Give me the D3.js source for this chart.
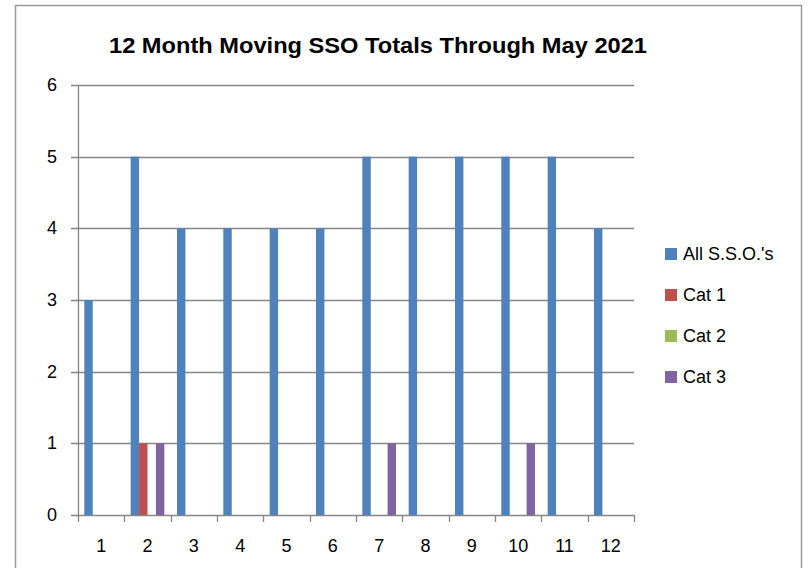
<!DOCTYPE html>
<html>
<head>
<meta charset="utf-8">
<script src="https://cdn.jsdelivr.net/npm/d3@7"></script>
<style>
  body { margin: 0; background: #fff; }
  text { font-family: "Liberation Sans", Arial, sans-serif; fill: #000; }
</style>
</head>
<body>
<div id="viz"></div>
<script>
const months = ['1', '2', '3', '4', '5', '6', '7', '8', '9', '10', '11', '12'];
const seriesNames = ["All S.S.O.'s", 'Cat 1', 'Cat 2', 'Cat 3'];
const allSSO = [3, 5, 4, 4, 4, 4, 5, 5, 5, 5, 5, 4];
const cat1 = [0, 1, 0, 0, 0, 0, 0, 0, 0, 0, 0, 0];
const cat2 = [0, 0, 0, 0, 0, 0, 0, 0, 0, 0, 0, 0];
const cat3 = [0, 1, 0, 0, 0, 0, 1, 0, 0, 1, 0, 0];
const yTicks = [0, 1, 2, 3, 4, 5, 6];
const title = '12 Month Moving SSO Totals Through May 2021';

const colours = {
  "All S.S.O.'s": '#4F81BD',
  'Cat 1': '#C0504D',
  'Cat 2': '#9BBB59',
  'Cat 3': '#8064A2',
};

const seriesValues = [allSSO, cat1, cat2, cat3];
const rows = months.map((m, i) => ({
  month: m,
  values: seriesNames.map((s, j) => ({ series: s, value: seriesValues[j][i] })),
}));

const width = 808;
const height = 568;
const plot = { left: 78, right: 634, top: 85, bottom: 515 };
const gridColour = '#868686';

const svg = d3.select('#viz')
  .append('svg')
  .attr('width', width)
  .attr('height', height);

// chart frame
svg.append('rect')
  .attr('x', 15.5)
  .attr('y', 5.5)
  .attr('width', 786)
  .attr('height', 600)
  .attr('fill', '#fff')
  .attr('stroke', '#999')
  .attr('stroke-width', 1.5);

svg.append('text')
  .attr('x', 378)
  .attr('y', 53)
  .attr('text-anchor', 'middle')
  .attr('textLength', 538)
  .attr('lengthAdjust', 'spacingAndGlyphs')
  .style('font-weight', 'bold')
  .style('font-size', '22px')
  .text(title);

const x = d3.scaleBand()
  .domain(months)
  .range([plot.left, plot.right])
  .padding(0);

const xSub = d3.scaleBand()
  .domain(seriesNames)
  .range([0, x.bandwidth()])
  .paddingInner(0)
  .paddingOuter(0.75);

const y = d3.scaleLinear()
  .domain([0, 6])
  .range([plot.bottom, plot.top]);

// gridlines
svg.append('g')
  .selectAll('line')
  .data(yTicks)
  .enter()
  .append('line')
  .attr('x1', plot.left - 7)
  .attr('x2', plot.right)
  .attr('y1', d => Math.round(y(d)) + 0.5)
  .attr('y2', d => Math.round(y(d)) + 0.5)
  .attr('stroke', gridColour)
  .attr('stroke-width', 1.3);

// y axis line
svg.append('line')
  .attr('x1', plot.left + 0.5)
  .attr('x2', plot.left + 0.5)
  .attr('y1', plot.top)
  .attr('y2', plot.bottom)
  .attr('stroke', gridColour)
  .attr('stroke-width', 1.3);

// x tick marks at band edges
const edges = months.map(m => x(m)).concat([plot.right]);
svg.append('g')
  .selectAll('line')
  .data(edges)
  .enter()
  .append('line')
  .attr('x1', d => Math.round(d) + 0.5)
  .attr('x2', d => Math.round(d) + 0.5)
  .attr('y1', plot.bottom)
  .attr('y2', plot.bottom + 7)
  .attr('stroke', gridColour)
  .attr('stroke-width', 1.3);

// bars
svg.append('g')
  .selectAll('g')
  .data(rows)
  .enter()
  .append('g')
  .attr('transform', d => `translate(${x(d.month)}, 0)`)
  .selectAll('rect')
  .data(d => d.values.filter(v => v.value > 0))
  .enter()
  .append('rect')
  .attr('x', d => xSub(d.series))
  .attr('width', xSub.bandwidth())
  .attr('y', d => y(d.value))
  .attr('height', d => y(0) - y(d.value))
  .attr('fill', d => colours[d.series]);

// y labels
svg.append('g')
  .selectAll('text')
  .data(yTicks)
  .enter()
  .append('text')
  .attr('x', 57)
  .attr('y', d => y(d) + 6)
  .attr('text-anchor', 'end')
  .style('font-size', '18px')
  .text(d => d);

// x labels
svg.append('g')
  .selectAll('text')
  .data(months)
  .enter()
  .append('text')
  .attr('x', d => x(d) + x.bandwidth() / 2)
  .attr('y', 552)
  .attr('text-anchor', 'middle')
  .style('font-size', '18px')
  .text(d => d);

// legend
const legend = svg.append('g')
  .selectAll('g')
  .data(seriesNames)
  .enter()
  .append('g')
  .attr('transform', (d, i) => `translate(665, ${254 + i * 41})`);

legend.append('rect')
  .attr('x', 0)
  .attr('y', -6)
  .attr('width', 12)
  .attr('height', 12)
  .attr('fill', d => colours[d]);

legend.append('text')
  .attr('x', 18)
  .attr('y', 6)
  .style('font-size', '18px')
  .text(d => d);
</script>
</body>
</html>
